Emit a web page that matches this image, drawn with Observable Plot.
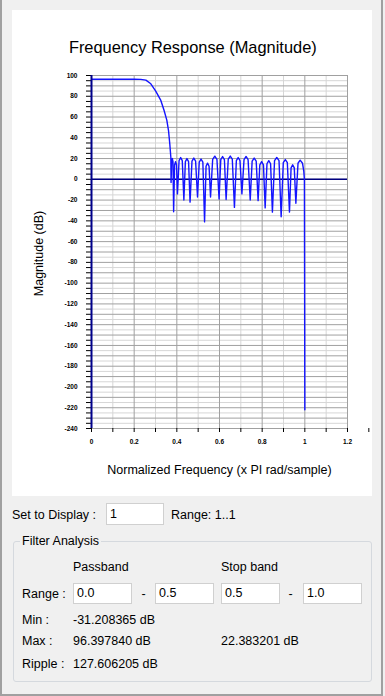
<!DOCTYPE html>
<html><head><meta charset="utf-8">
<script src="https://cdn.jsdelivr.net/npm/d3@7"></script>
<script src="https://cdn.jsdelivr.net/npm/@observablehq/plot@0.6"></script>
<style>
html,body{margin:0;padding:0;background:#f0f0f0;width:385px;height:696px;overflow:hidden;font-family:"Liberation Sans",Arial,sans-serif;font-size:12.5px;color:#000}
#frame{position:absolute;left:0;top:0;width:383px;height:696px;box-sizing:border-box;border:2px solid #a0a0a0;border-top:none}
#panel{position:absolute;left:12px;top:10px;width:360px;height:486px;background:#fff}
#panel svg{display:block}
.t{position:absolute;line-height:16px;white-space:nowrap}
.box{position:absolute;background:#fff;border:1px solid #d0d0d0;box-sizing:border-box;padding-left:3px;white-space:nowrap}
#group{position:absolute;left:13px;top:541px;width:359px;height:141px;border:1px solid #d5d9de;border-radius:3px;box-sizing:border-box}
</style></head>
<body>
<div id="frame"></div>
<div id="panel"></div>
<div class="t" style="left:12px;top:506.5px">Set to Display :</div>
<div class="box" style="left:106px;top:503px;width:58px;height:22px;line-height:20px">1</div>
<div class="t" style="left:171px;top:506.5px">Range: 1..1</div>
<div id="group"></div>
<div class="t" style="left:20px;top:532.5px;background:#f0f0f0;padding:0 2px">Filter Analysis</div>
<div class="t" style="left:73px;top:558.5px">Passband</div>
<div class="t" style="left:221px;top:558.5px">Stop band</div>
<div class="t" style="left:22px;top:585.5px">Range :</div>
<div class="box" style="left:73px;top:583px;width:59px;height:21px;line-height:19px">0.0</div>
<div class="t" style="left:141.5px;top:585.5px">-</div>
<div class="box" style="left:155px;top:583px;width:59px;height:21px;line-height:19px">0.5</div>
<div class="box" style="left:221px;top:583px;width:59px;height:21px;line-height:19px">0.5</div>
<div class="t" style="left:288.5px;top:585.5px">-</div>
<div class="box" style="left:303px;top:583px;width:59px;height:21px;line-height:19px">1.0</div>
<div class="t" style="left:22px;top:611.5px">Min :</div>
<div class="t" style="left:73px;top:611.5px">-31.208365 dB</div>
<div class="t" style="left:22px;top:633px">Max :</div>
<div class="t" style="left:73px;top:633px">96.397840 dB</div>
<div class="t" style="left:221px;top:633px">22.383201 dB</div>
<div class="t" style="left:22px;top:656px">Ripple :</div>
<div class="t" style="left:73px;top:656px">127.606205 dB</div>
<script>
// Normalized frequency (x PI rad/sample)
const freq = [0, 0.1, 0.2, 0.231, 0.255, 0.278, 0.301, 0.325, 0.340, 0.353, 0.361, 0.367, 0.372,
  0.373, 0.376, 0.379, 0.382, 0.385, 0.3895, 0.394, 0.3985, 0.403, 0.4105, 0.418, 0.4255,
  0.433, 0.440, 0.4475, 0.455, 0.462, 0.471, 0.4795, 0.488, 0.497, 0.505, 0.5135, 0.522,
  0.530, 0.537, 0.544, 0.551, 0.558, 0.568, 0.578, 0.588, 0.598, 0.606, 0.6145, 0.623,
  0.631, 0.641, 0.6505, 0.660, 0.670, 0.679, 0.6875, 0.696, 0.705, 0.715, 0.7245, 0.734,
  0.744, 0.753, 0.7625, 0.772, 0.781, 0.789, 0.7975, 0.806, 0.814, 0.8225, 0.831, 0.8395,
  0.848, 0.858, 0.8685, 0.879, 0.889, 0.899, 0.9085, 0.918, 0.928, 0.9355, 0.943, 0.9505,
  0.958, 0.968, 0.978, 0.989, 0.995, 0.998, 1.0];
// Magnitude (dB)
const magnitudeDb = [96.4, 96.4, 96.4, 96.3, 95.5, 92, 85, 76, 66.5, 57, 47, 34, 21,
  -3, 19, 20, 17, -31.2, 14, 17, 14, -14, 18, 21, 18,
  -20, 17, 20, 17, -22, 17.5, 20.5, 17.5, -17, 16.5, 19.5, 16.5,
  -41, 12.6, 15.6, 12.6, -17, 19.3, 22.3, 19.3, -19, 19, 22, 19,
  -19.5, 19.4, 22.38, 19.4, -27, 18, 21, 18, -14, 19, 22, 19,
  -20, 17.5, 20.5, 17.5, -20.5, 14, 17, 14, -27.5, 15, 18, 15,
  -31.6, 18, 21, 18, -36, 16, 19, 16, -31.6, 11, 14, 11,
  -23, 15.5, 18.5, 15.5, 8, 0, -222];

const xTickLabels = [0, 0.2, 0.4, 0.6, 0.8, 1, 1.2];
const xMinorTicks = [0, 0.1, 0.2, 0.3, 0.4, 0.5, 0.6, 0.7, 0.8, 0.9, 1, 1.1, 1.2, 1.3];
const yTickLabels = [100, 80, 60, 40, 20, 0, -20, -40, -60, -80, -100, -120, -140, -160, -180, -200, -220, -240];

const xGridMajor = [0.2, 0.4, 0.6, 0.8, 1.0, 1.2];
const xGridMinor = [0.1, 0.3, 0.5, 0.7, 0.9, 1.1];
const yGridMajor = d3.range(-240, 101, 10);
const yGridMinor = d3.range(-235, 100, 10);
const yMinorTicks = d3.range(-240, 101, 5);

const data = freq.map((f, i) => ({f, m: magnitudeDb[i]}));

const chart = Plot.plot({
  width: 360, height: 486,
  marginLeft: 79, marginRight: 25, marginTop: 65, marginBottom: 68,
  style: {background: "white", fontFamily: "'Liberation Sans', Arial, sans-serif", overflow: "visible"},
  x: {domain: [0, 1.2], label: null},
  y: {domain: [-240, 100], label: null},
  marks: [
    Plot.ruleX(xGridMinor, {stroke: "#d6d6d6"}),
    Plot.ruleY(yGridMinor, {stroke: "#d6d6d6"}),
    Plot.ruleX(xGridMajor, {stroke: "#a0a0a0"}),
    Plot.ruleY(yGridMajor, {stroke: "#a0a0a0"}),
    Plot.ruleY([0], {stroke: "#000080", strokeWidth: 1.5}),
    Plot.line(data, {x: "f", y: "m", stroke: "#1414ff", strokeWidth: 1.4}),
    Plot.axisX({ticks: xMinorTicks, tickSize: 4, tickFormat: () => "", label: null, stroke: "#000"}),
    Plot.axisX({ticks: xTickLabels, tickSize: 0, tickPadding: 11, label: null, fontSize: 6.5, fontWeight: "bold", tickFormat: d => String(d)}),
    Plot.axisY({ticks: yMinorTicks, tickSize: 5, tickFormat: () => "", label: null, stroke: "#000"}),
    Plot.axisY({ticks: yTickLabels, tickSize: 0, tickPadding: 14, label: null, fontSize: 6.5, fontWeight: "bold", tickFormat: d => String(d)}),
    Plot.ruleX([0], {stroke: "#00008b", strokeWidth: 2}),
    Plot.text(["Frequency Response (Magnitude)"], {frameAnchor: "top", lineAnchor: "middle", textAnchor: "middle", dx: -26.7, dy: -28, fontSize: 16.4, fill: "#000"}),
    Plot.text(["Normalized Frequency (x PI rad/sample)"], {frameAnchor: "bottom", lineAnchor: "middle", textAnchor: "middle", dy: 41.5, fontSize: 12.5, fill: "#000"}),
    Plot.text(["Magnitude (dB)"], {frameAnchor: "left", lineAnchor: "middle", textAnchor: "middle", dx: -52.7, dy: 1.5, rotate: -90, fontSize: 12.5, fill: "#000"})
  ]
});
document.getElementById("panel").appendChild(chart);
</script>
</body></html>
